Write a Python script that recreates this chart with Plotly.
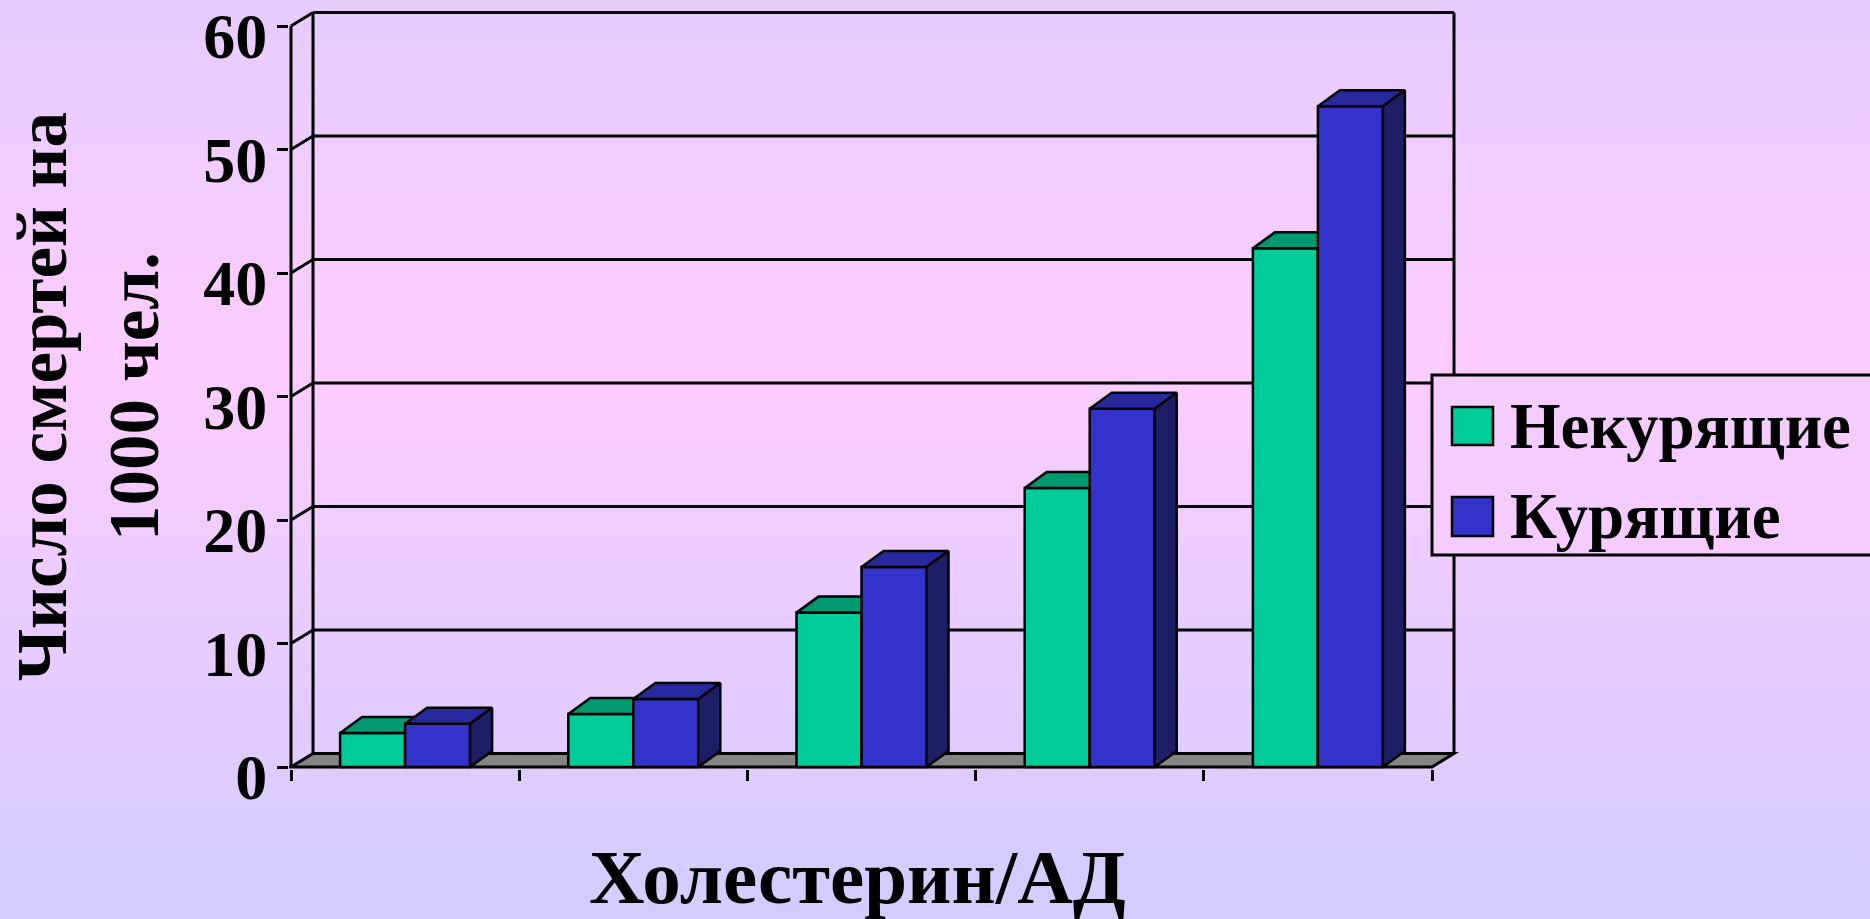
import base64
import plotly.graph_objects as go

# Deaths per 1000 people, by cholesterol / blood-pressure level group
groups = [0, 1, 2, 3, 4]
nonsmokers = [2.75, 4.3, 12.5, 22.6, 42.0]
smokers = [3.5, 5.5, 16.2, 29.0, 53.5]
y_ticks = [0, 10, 20, 30, 40, 50, 60]

series_names = ["Некурящие", "Курящие"]
y_title = "Число смертей на<br>1000 чел."
x_title = "Холестерин/АД"

FONT = "Liberation Serif, Times New Roman, serif"
FIG_W, FIG_H = 1870, 919

# front plane of the pseudo-3D box (pixels)
AX_X0, AX_X1 = 291, 1432
AX_Y0, AX_YTOP = 767, 26
PXX = (AX_X1 - AX_X0) / len(groups)
PXY = (AX_Y0 - AX_YTOP) / y_ticks[-1]
PLOT_L, PLOT_R, PLOT_T, PLOT_B = 289, 1470, 5, 769

x_lo = -0.5 - (AX_X0 - PLOT_L) / PXX
x_hi = x_lo + (PLOT_R - PLOT_L) / PXX
y_lo = -(PLOT_B - AX_Y0) / PXY
y_hi = y_lo + (PLOT_B - PLOT_T) / PXY

# depth offsets of walls and bars, in data units
wall_dx, wall_dy = 22 / PXX, 13.5 / PXY
bar_dx, bar_dy = 22 / PXX, 16 / PXY
bar_w = 65 / PXX

GREEN = ("#00CC99", "#00996F", "#00664C")
BLUE = ("#3333CC", "#28289E", "#1E1E66")
EDGE = "black"


def px_x(px):
    return (px - PLOT_L) / (PLOT_R - PLOT_L)


def px_y(py):
    return (PLOT_B - py) / (PLOT_B - PLOT_T)


def bar_faces(values, offset):
    tx, ty, sx, sy = [], [], [], []
    for g, v in zip(groups, values):
        x0 = g + offset
        x1 = x0 + bar_w
        tx += [x0, x1, x1 + bar_dx, x0 + bar_dx, x0, None]
        ty += [v, v, v + bar_dy, v + bar_dy, v, None]
        sx += [x1, x1 + bar_dx, x1 + bar_dx, x1, x1, None]
        sy += [0, bar_dy, v + bar_dy, v, 0, None]
    return tx, ty, sx, sy


fig = go.Figure()


def add_series(values, offset, colors, name, xa, ya):
    front, top, side = colors
    fig.add_trace(go.Bar(
        x=groups, y=values, width=bar_w, offset=offset, name=name,
        marker=dict(color=front, line=dict(color=EDGE, width=2.5)),
        xaxis=xa, yaxis=ya, showlegend=False, hoverinfo="skip",
    ))
    tx, ty, sx, sy = bar_faces(values, offset)
    fig.add_trace(go.Scatter(
        x=tx, y=ty, mode="lines", fill="toself", fillcolor=top,
        line=dict(color=EDGE, width=2.5), xaxis=xa, yaxis=ya,
        showlegend=False, hoverinfo="skip",
    ))
    fig.add_trace(go.Scatter(
        x=sx, y=sy, mode="lines", fill="toself", fillcolor=side,
        line=dict(color=EDGE, width=2.5), xaxis=xa, yaxis=ya,
        showlegend=False, hoverinfo="skip",
    ))


# non-smokers on the base subplot, smokers on an overlaid one drawn on top
add_series(nonsmokers, -bar_w, GREEN, series_names[0], "x", "y")
add_series(smokers, 0.0, BLUE, series_names[1], "x2", "y2")

shapes = []
left, right = -0.5, groups[-1] + 0.5
ytop = y_ticks[-1]
line_k = dict(color=EDGE, width=3)

# floor
shapes.append(dict(
    type="path", xref="x", yref="y", layer="below",
    path=(f"M{left},0 L{right},0 L{right + wall_dx},{wall_dy} "
          f"L{left + wall_dx},{wall_dy} Z"),
    fillcolor="#858585", line=line_k,
))
# back wall gridlines and left-side diagonals
for v in y_ticks[1:]:
    shapes.append(dict(type="line", xref="x", yref="y", layer="below",
                       x0=left + wall_dx, x1=right + wall_dx,
                       y0=v + wall_dy, y1=v + wall_dy, line=line_k))
    shapes.append(dict(type="line", xref="x", yref="y", layer="below",
                       x0=left, x1=left + wall_dx,
                       y0=v, y1=v + wall_dy, line=line_k))
# back wall vertical edges
for xe in (left + wall_dx, right + wall_dx):
    shapes.append(dict(type="line", xref="x", yref="y", layer="below",
                       x0=xe, x1=xe, y0=wall_dy, y1=ytop + wall_dy,
                       line=line_k))
# front value axis line
shapes.append(dict(type="line", xref="x", yref="y", layer="below",
                   x0=left, x1=left, y0=0, y1=ytop, line=line_k))

# legend box (runs off the right edge of the page)
LG_L, LG_T, LG_B = 1432, 375, 555
shapes.append(dict(type="rect", xref="paper", yref="paper", layer="above",
                   x0=px_x(LG_L), x1=px_x(FIG_W + 20),
                   y0=px_y(LG_B), y1=px_y(LG_T),
                   fillcolor="#F5CCFF", line=dict(color=EDGE, width=3)))
legend_rows = [(407, 445, GREEN[0], 447), (497, 536, BLUE[0], 537)]
annotations = []
for (sq_t, sq_b, col, base), name in zip(legend_rows, series_names):
    shapes.append(dict(type="rect", xref="paper", yref="paper", layer="above",
                       x0=px_x(1452), x1=px_x(1493),
                       y0=px_y(sq_b), y1=px_y(sq_t),
                       fillcolor=col, line=dict(color=EDGE, width=2.5)))
    annotations.append(dict(
        text=name, xref="paper", yref="paper", x=px_x(1508), y=px_y(base - 21),
        xanchor="left", yanchor="middle", showarrow=False,
        font=dict(family=FONT, size=65, color="black", weight="bold"),
    ))

annotations.append(dict(
    text=x_title, xref="paper", yref="paper", x=px_x(857), y=px_y(877),
    xanchor="center", yanchor="middle", showarrow=False,
    font=dict(family=FONT, size=77, color="black", weight="bold"),
))
annotations.append(dict(
    text=y_title, xref="paper", yref="paper", x=px_x(88), y=px_y(397),
    xanchor="center", yanchor="middle", showarrow=False, textangle=-90,
    align="center",
    font=dict(family=FONT, size=71, color="black", weight="bold"),
))

# vertical background gradient
svg = (
    f'<svg xmlns="http://www.w3.org/2000/svg" width="{FIG_W}" height="{FIG_H}" '
    f'viewBox="0 0 {FIG_W} {FIG_H}" preserveAspectRatio="none">'
    '<defs><linearGradient id="g" x1="0" y1="0" x2="0" y2="1">'
    '<stop offset="0" stop-color="#E7CCFF"/>'
    '<stop offset="0.40" stop-color="#FCCCFF"/>'
    '<stop offset="1" stop-color="#D3CCFF"/>'
    '</linearGradient></defs>'
    f'<rect width="{FIG_W}" height="{FIG_H}" fill="url(#g)"/></svg>'
)
bg_uri = "data:image/svg+xml;base64," + base64.b64encode(svg.encode()).decode()

tick_font = dict(family=FONT, size=64, color="black", weight="bold")

fig.update_layout(
    width=FIG_W, height=FIG_H, autosize=False,
    margin=dict(l=PLOT_L, r=FIG_W - PLOT_R, t=PLOT_T, b=FIG_H - PLOT_B,
                pad=0, autoexpand=False),
    paper_bgcolor="#EACCFF", plot_bgcolor="rgba(0,0,0,0)",
    barmode="overlay", showlegend=False,
    shapes=shapes, annotations=annotations,
    images=[dict(source=bg_uri, xref="paper", yref="paper",
                 x=px_x(0), y=px_y(0), sizex=px_x(FIG_W) - px_x(0),
                 sizey=px_y(0) - px_y(FIG_H), xanchor="left", yanchor="top",
                 sizing="stretch", layer="below")],
    xaxis=dict(range=[x_lo, x_hi], showgrid=False, zeroline=False,
               showline=False, tickmode="array",
               tickvals=[g - 0.5 for g in groups] + [groups[-1] + 0.5],
               ticks="outside", ticklen=11, tickwidth=3, tickcolor=EDGE,
               showticklabels=False, automargin=False, fixedrange=True),
    yaxis=dict(range=[y_lo, y_hi], showgrid=False, zeroline=False,
               showline=False, tickmode="array", tickvals=y_ticks,
               ticks="outside", ticklen=11, tickwidth=3, tickcolor=EDGE,
               tickfont=tick_font, ticklabelstandoff=-3, ticklabelshift=10,
               ticklabeloverflow="allow", automargin=False, fixedrange=True),
    xaxis2=dict(range=[x_lo, x_hi], overlaying="x", anchor="y2",
                visible=False, automargin=False, fixedrange=True),
    yaxis2=dict(range=[y_lo, y_hi], overlaying="y", anchor="x2",
                visible=False, automargin=False, fixedrange=True),
)

fig.write_html("out.html", config={"displayModeBar": False})
